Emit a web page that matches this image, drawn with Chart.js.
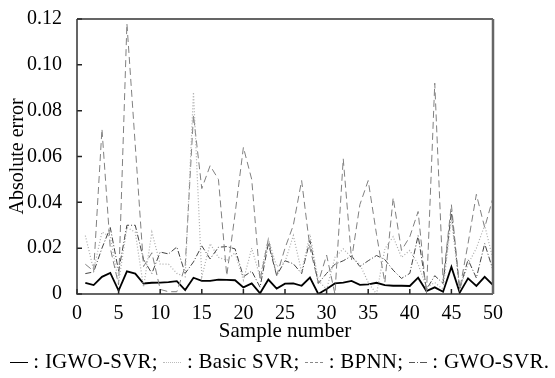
<!DOCTYPE html>
<html>
<head>
<meta charset="utf-8">
<script src="https://cdn.jsdelivr.net/npm/chart.js@4"></script>
<style>
  body { margin:0; background:#fff; }
  #wrap { position:relative; width:555px; height:378px; }
  #legend { position:absolute; left:2px; top:349px; width:555px; text-align:center;
            font:21px "Liberation Serif", serif; color:#000; white-space:nowrap; letter-spacing:0.25px; }
  .sym { display:inline-block; width:18px; height:0; vertical-align:middle; margin-bottom:2px; }
  .solid { border-top:1.6px solid #000; }
  .dot { border-top:1.5px dotted #bbb; }
  .dash { border-top:1px dashed #888; }
  .dashdot { width:18px; height:1px; background:linear-gradient(to right,#555 0 6px,transparent 6px 8px,#555 8px 9px,transparent 9px 11px,#555 11px 18px); }
</style>
</head>
<body>
<div id="wrap">
  <canvas id="c" width="555" height="378"></canvas>
  <div id="legend"><span class="sym solid"></span> : IGWO-SVR; <span class="sym dot"></span> : Basic SVR; <span class="sym dash"></span> : BPNN; <span class="sym dashdot"></span> : GWO-SVR.</div>
</div>
<script>
const samples = [1,2,3,4,5,6,7,8,9,10,11,12,13,14,15,16,17,18,19,20,21,22,23,24,25,
  26,27,28,29,30,31,32,33,34,35,36,37,38,39,40,41,42,43,44,45,46,47,48,49,50];

const igwoSvr = [0.0049,0.0039,0.0075,0.0092,0.0015,0.0099,0.0089,0.0046,0.0049,0.0050,
  0.0052,0.0056,0.0017,0.0071,0.0057,0.0057,0.0063,0.0062,0.0060,0.0029,
  0.0046,0.0003,0.0063,0.0024,0.0045,0.0046,0.0036,0.0072,0.0000,0.0022,
  0.0046,0.0050,0.0057,0.0040,0.0042,0.0049,0.0039,0.0036,0.0036,0.0035,
  0.0071,0.0013,0.0029,0.0010,0.0118,0.0006,0.0068,0.0035,0.0075,0.0039];

const basicSvr = [0.0255,0.0105,0.0270,0.0250,0.0050,0.0290,0.0270,0.0030,0.0270,0.0130,
  0.0130,0.0090,0.0075,0.0880,0.0075,0.0220,0.0160,0.0147,0.0180,0.0060,
  0.0200,0.0075,0.0240,0.0120,0.0140,0.0255,0.0096,0.0260,0.0060,0.0020,
  0.0160,0.0197,0.0160,0.0130,0.0050,0.0000,0.0197,0.0250,0.0160,0.0190,
  0.0130,0.0030,0.0050,0.0020,0.0330,0.0020,0.0130,0.0200,0.0300,0.0150];

const bpnn = [0.0130,0.0100,0.0720,0.0200,0.0040,0.1180,0.0650,0.0120,0.0180,0.0020,
  0.0010,0.0010,0.0120,0.0780,0.0460,0.0560,0.0500,0.0080,0.0350,0.0640,
  0.0500,0.0060,0.0240,0.0080,0.0200,0.0300,0.0495,0.0200,0.0050,0.0170,
  0.0000,0.0590,0.0150,0.0390,0.0495,0.0260,0.0050,0.0420,0.0190,0.0250,
  0.0360,0.0000,0.0920,0.0060,0.0390,0.0020,0.0220,0.0435,0.0290,0.0420];

const gwoSvr = [0.0089,0.0096,0.0200,0.0290,0.0100,0.0300,0.0300,0.0150,0.0090,0.0183,
  0.0175,0.0205,0.0090,0.0140,0.0210,0.0153,0.0204,0.0207,0.0197,0.0075,
  0.0100,0.0030,0.0220,0.0080,0.0145,0.0132,0.0089,0.0233,0.0046,0.0090,
  0.0130,0.0145,0.0166,0.0120,0.0145,0.0168,0.0150,0.0104,0.0068,0.0090,
  0.0255,0.0020,0.0080,0.0046,0.0360,0.0020,0.0150,0.0070,0.0220,0.0104];

const xTicks = [0,5,10,15,20,25,30,35,40,45,50];
const yTicks = [0,0.02,0.04,0.06,0.08,0.10,0.12];

function pts(arr){ return samples.map((s,i)=>({x:s,y:arr[i]})); }

const font = { family:"Liberation Serif", size:20 };

// box around plot + inward tick marks
const framePlugin = {
  id:"frame",
  afterDraw(chart){
    const {ctx, chartArea:a, scales} = chart;
    ctx.save();
    ctx.strokeStyle = "#222";
    ctx.lineWidth = 1.5;
    ctx.beginPath();
    xTicks.forEach(v=>{ const p = scales.x.getPixelForValue(v); ctx.moveTo(p,a.bottom); ctx.lineTo(p,a.bottom-5); });
    yTicks.forEach(v=>{ const p = scales.y.getPixelForValue(v); ctx.moveTo(a.left,p); ctx.lineTo(a.left+5,p); });
    ctx.stroke();
    ctx.strokeStyle = "#333";
    ctx.beginPath();
    ctx.moveTo(a.left,a.top); ctx.lineTo(a.right,a.top);
    ctx.moveTo(a.left,a.top); ctx.lineTo(a.left,a.bottom); ctx.lineTo(a.right,a.bottom);
    ctx.stroke();
    ctx.strokeStyle = "#666";
    ctx.lineWidth = 2.5;
    ctx.beginPath();
    ctx.moveTo(a.right,a.top); ctx.lineTo(a.right,a.bottom);
    ctx.stroke();
    ctx.restore();
  }
};

new Chart(document.getElementById("c"),{
  type:"line",
  data:{ datasets:[
    { label:"Basic SVR", data:pts(basicSvr), borderColor:"#aaa", borderWidth:1.2, borderDash:[1,2] },
    { label:"BPNN", data:pts(bpnn), borderColor:"#808080", borderWidth:1, borderDash:[7,4] },
    { label:"GWO-SVR", data:pts(gwoSvr), borderColor:"#444", borderWidth:1, borderDash:[6,2,1,2] },
    { label:"IGWO-SVR", data:pts(igwoSvr), borderColor:"#000", borderWidth:1.8 }
  ]},
  options:{
    responsive:false, animation:false,
    layout:{ padding:{ left:0, right:62, top:16, bottom:34 } },
    elements:{ point:{ radius:0 }, line:{ tension:0 } },
    plugins:{ legend:{ display:false }, tooltip:{ enabled:false } },
    scales:{
      x:{ type:"linear", min:0, max:50,
          afterFit(s){ s.height = 50; },
          afterBuildTicks(s){ s.ticks = xTicks.map(v=>({value:v})); },
          grid:{ display:false }, border:{ display:false },
          ticks:{ font, color:"#000", padding:0, maxRotation:0 },
          title:{ display:true, text:"Sample number", font:{ family:"Liberation Serif", size:21 }, color:"#000", padding:{top:0,bottom:0} } },
      y:{ min:0, max:0.12,
          afterFit(s){ s.width = 77; },
          afterBuildTicks(s){ s.ticks = yTicks.map(v=>({value:v})); },
          grid:{ display:false }, border:{ display:false },
          ticks:{ font, color:"#000", padding:7, callback:v=> v===0 ? "0" : v.toFixed(2) },
          title:{ display:true, text:"Absolute error", font, color:"#000", padding:{top:6,bottom:0} } }
    }
  },
  plugins:[framePlugin]
});
</script>
</body>
</html>
